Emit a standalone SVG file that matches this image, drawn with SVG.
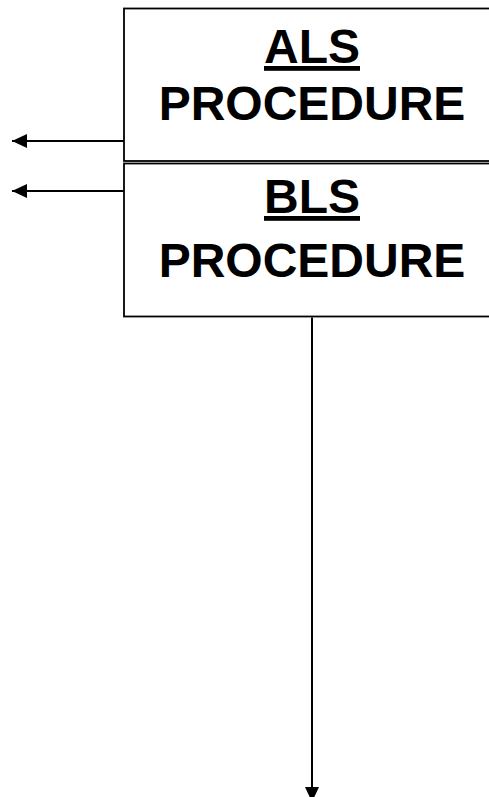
<svg xmlns="http://www.w3.org/2000/svg" width="489" height="797" viewBox="0 0 489 797">
<style>
.box{fill:#fff;stroke:#000;stroke-width:1.8}
.lbl{font-family:"Liberation Sans",Arial,sans-serif;font-weight:bold;font-size:48px;fill:#000;text-anchor:middle}
.u{text-decoration:underline}
.conn{stroke:#000;stroke-width:2;fill:none}
</style>
<defs>
<marker id="ah" viewBox="0 0 15 14" refX="15" refY="7" markerWidth="15" markerHeight="14" markerUnits="userSpaceOnUse" orient="auto">
<path d="M0,0 L15,7 L0,14 Z" fill="#000"/>
</marker>
</defs>
<rect width="489" height="797" fill="#fff"/>
<g id="als">
<rect class="box" x="124" y="8.5" width="400" height="152.5"/>
<text class="lbl u" x="312" y="63">ALS</text>
<text class="lbl" x="312" y="120">PROCEDURE</text>
</g>
<g id="bls">
<rect class="box" x="124" y="163.5" width="400" height="153"/>
<text class="lbl u" x="312" y="213">BLS</text>
<text class="lbl" x="312" y="277">PROCEDURE</text>
</g>
<g id="connectors">
<line class="conn" x1="124" y1="141" x2="12" y2="141" marker-end="url(#ah)"/>
<line class="conn" x1="124" y1="191" x2="12" y2="191" marker-end="url(#ah)"/>
<line class="conn" x1="312" y1="317.5" x2="312" y2="802" marker-end="url(#ah)"/>
</g>
</svg>
